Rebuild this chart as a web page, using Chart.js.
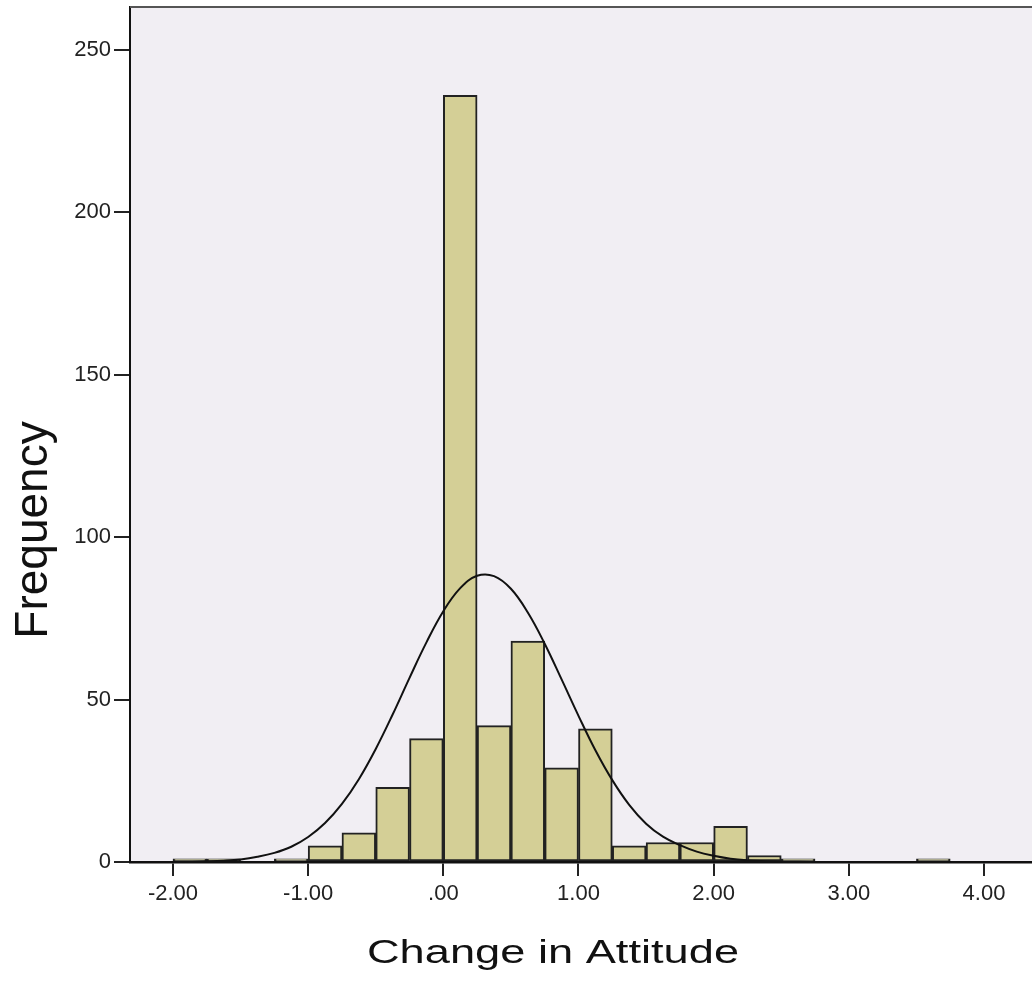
<!DOCTYPE html>
<html>
<head>
<meta charset="utf-8">
<script src="https://cdn.jsdelivr.net/npm/chart.js@4.4.1/dist/chart.umd.min.js"></script>
<style>
html,body{margin:0;padding:0;background:#ffffff;}
#wrap{width:1032px;height:988px;position:relative;}
canvas{display:block;}
</style>
</head>
<body>
<div id="wrap"><canvas id="c" width="1032" height="988"></canvas></div>
<script>
// Histogram bins (bin centres, width 0.25) and their frequencies
const binCenters = [-1.875, -1.625, -1.125, -0.875, -0.625, -0.375, -0.125, 0.125, 0.375, 0.625, 0.875, 1.125, 1.375, 1.625, 1.875, 2.125, 2.375, 2.625, 3.625];
const binCounts  = [1, 1, 1, 5, 9, 23, 38, 236, 42, 68, 29, 41, 5, 6, 6, 11, 2, 1, 1];

// Normal curve
const curveX = [-2.0, -1.875, -1.75, -1.625, -1.5, -1.375, -1.25, -1.125, -1.0, -0.875, -0.75, -0.625, -0.5, -0.375, -0.25, -0.125, 0.0, 0.125, 0.25, 0.375, 0.5, 0.625, 0.75, 0.875, 1.0, 1.125, 1.25, 1.375, 1.5, 1.625, 1.75, 1.875, 2.0, 2.125, 2.25, 2.375, 2.5, 2.75, 3.0, 3.25, 3.5, 3.75];
const curveY = [0.05, 0.1, 0.2, 0.4, 0.8, 1.6, 2.8, 4.7, 7.7, 12.0, 17.9, 25.5, 34.8, 45.4, 56.7, 67.6, 77.2, 84.3, 88.1, 88.0, 84.1, 76.8, 67.2, 56.2, 45.0, 34.4, 25.2, 17.6, 11.8, 7.8, 5.2, 3.2, 1.9, 1.0, 0.5, 0.25, 0.1, 0.02, 0, 0, 0, 0];

// Axis ticks
const xTickValues = [-2, -1, 0, 1, 2, 3, 4];
const xTickLabels = ['-2.00', '-1.00', '.00', '1.00', '2.00', '3.00', '4.00'];
const yTickValues = [0, 50, 100, 150, 200, 250];
const yTickLabels = ['0', '50', '100', '150', '200', '250'];

const xTitle = 'Change in Attitude';
const yTitle = 'Frequency';

const FONT = "'Liberation Sans', Arial, sans-serif";

const bgPlugin = {
  id: 'bg',
  beforeDraw(chart) {
    const {ctx, chartArea: a} = chart;
    ctx.save();
    ctx.fillStyle = '#f1eef3';
    ctx.fillRect(a.left, a.top, a.right - a.left, a.bottom - a.top);
    ctx.restore();
  },
  afterDraw(chart) {
    const {ctx, chartArea: a} = chart;
    ctx.save();
    // top frame line
    ctx.strokeStyle = '#555555';
    ctx.lineWidth = 2;
    ctx.beginPath();
    ctx.moveTo(a.left, a.top);
    ctx.lineTo(a.right, a.top);
    ctx.stroke();
    // axis titles
    ctx.fillStyle = '#111111';
    ctx.textAlign = 'center';
    ctx.textBaseline = 'middle';
    ctx.font = '34px ' + FONT;
    ctx.save();
    ctx.translate(a.left + 423, a.bottom + 92);
    ctx.scale(1.33, 1);
    ctx.fillText(xTitle, 0, 0);
    ctx.restore();
    ctx.font = '46px ' + FONT;
    ctx.save();
    ctx.translate(a.left - 96, a.top + 523);
    ctx.rotate(-Math.PI / 2);
    ctx.fillText(yTitle, 0, 0);
    ctx.restore();
    ctx.restore();
  }
};

new Chart(document.getElementById('c'), {
  data: {
    datasets: [
      {
        type: 'line',
        data: curveX.map((x, i) => ({x: x, y: curveY[i]})),
        borderColor: '#111111',
        borderWidth: 2,
        pointRadius: 0,
        tension: 0.4,
        fill: false,
        order: 0
      },
      {
        type: 'bar',
        data: binCenters.map((x, i) => ({x: x, y: binCounts[i]})),
        backgroundColor: '#d4cf96',
        borderColor: '#222222',
        borderWidth: 2,
        borderSkipped: false,
        barPercentage: 1,
        categoryPercentage: 1,
        order: 1
      }
    ]
  },
  options: {
    responsive: false,
    animation: false,
    layout: {padding: {top: 7, right: 0, left: 0, bottom: 0}},
    plugins: {legend: {display: false}, tooltip: {enabled: false}},
    scales: {
      x: {
        type: 'linear',
        offset: false,
        min: -2.318,
        max: 4.355,
        afterBuildTicks(s) { s.ticks = xTickValues.map(v => ({value: v})); },
        afterFit(s) { s.height = 126; s.paddingLeft = 0; s.paddingRight = 0; },
        grid: {display: true, offset: false, drawOnChartArea: false, drawTicks: true, tickLength: 14, color: '#222222', lineWidth: 2},
        border: {display: true, color: '#111111', width: 2.5},
        ticks: {
          autoSkip: false,
          maxRotation: 0,
          padding: 5,
          color: '#222222',
          font: {family: FONT, size: 22},
          callback: (v) => { const i = xTickValues.indexOf(v); return i >= 0 ? xTickLabels[i] : ''; }
        }
      },
      y: {
        type: 'linear',
        min: 0,
        max: 263.2,
        afterBuildTicks(s) { s.ticks = yTickValues.map(v => ({value: v})); },
        afterFit(s) { s.width = 130; s.paddingTop = 0; s.paddingBottom = 0; },
        grid: {display: true, drawOnChartArea: false, drawTicks: true, tickLength: 16, color: '#222222', lineWidth: 2},
        border: {display: true, color: '#111111', width: 2},
        ticks: {
          autoSkip: false,
          padding: 3,
          color: '#222222',
          font: {family: FONT, size: 22},
          callback: (v) => { const i = yTickValues.indexOf(v); return i >= 0 ? yTickLabels[i] : ''; }
        }
      }
    }
  },
  plugins: [bgPlugin]
});
</script>
</body>
</html>
